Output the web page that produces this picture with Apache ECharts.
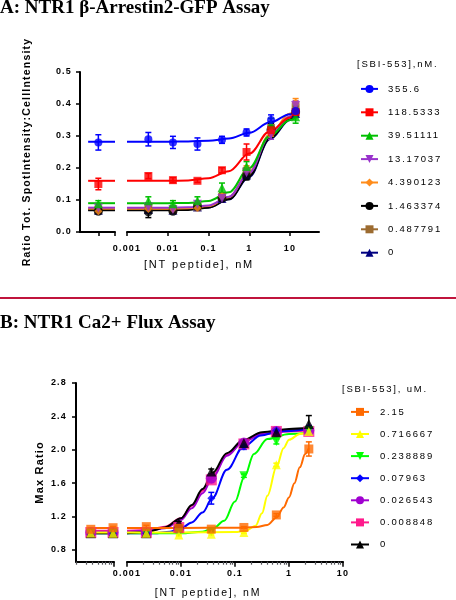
<!DOCTYPE html>
<html><head><meta charset="utf-8">
<script src="https://cdn.jsdelivr.net/npm/echarts@6/dist/echarts.min.js"></script>
<style>html,body{margin:0;padding:0;background:#fff}#c{width:456px;height:600px}</style>
</head><body><div id="c"></div>
<script>
// ---------- Panel A: NTR1 beta-Arrestin2-GFP ----------
const sbiA = ['355.6','118.5333','39.51111','13.17037','4.390123','1.463374','0.487791','0'];
const ntA = [0.00334, 0.0134, 0.0535, 0.214, 0.856, 3.42, 13.7];   // nM NT peptide
const ctrlA = [0.0002];                                              // control (no NT) position
// means: control, then ntA doses
const A355 = [0.280, 0.290, 0.280, 0.275, 0.288, 0.311, 0.350, 0.378];
const A118 = [0.150, 0.175, 0.162, 0.160, 0.193, 0.250, 0.318, 0.375];
const A39  = [0.088, 0.098, 0.088, 0.098, 0.138, 0.205, 0.335, 0.360];
const A13  = [0.075, 0.078, 0.070, 0.087, 0.105, 0.185, 0.305, 0.395];
const A4   = [0.065, 0.072, 0.072, 0.075, 0.112, 0.195, 0.315, 0.405];
const A1   = [0.065, 0.063, 0.065, 0.080, 0.105, 0.175, 0.320, 0.375];
const A05  = [0.070, 0.075, 0.070, 0.080, 0.110, 0.190, 0.325, 0.390];
const A0   = [0.068, 0.070, 0.068, 0.078, 0.105, 0.178, 0.330, 0.370];
const A355e = [0.024, 0.021, 0.019, 0.019, 0.011, 0.011, 0.016, 0.015];
const A118e = [0.018, 0.008, 0.008, 0.005, 0.008, 0.025, 0.015, 0.010];
const A39e  = [0.010, 0.012, 0.010, 0.012, 0.015, 0.015, 0.020, 0.020];
const A13e  = [0.010, 0.012, 0.008, 0.010, 0.012, 0.015, 0.015, 0.015];
const A4e   = [0.008, 0.008, 0.008, 0.008, 0.010, 0.012, 0.015, 0.012];
const A1e   = [0.006, 0.018, 0.006, 0.008, 0.008, 0.012, 0.020, 0.012];
const A05e  = [0.008, 0.010, 0.008, 0.008, 0.010, 0.012, 0.015, 0.012];
const A0e   = [0.006, 0.008, 0.006, 0.008, 0.008, 0.012, 0.015, 0.012];
// fitted curves, x = log10(nM)
const fitXA = [-3.95, -3.29, -3, -2.5, -2, -1.5, -1, -0.5, 0, 0.5, 1, 1.14];
const fA355 = [0.282,0.282,0.282,0.282,0.282,0.283,0.285,0.292,0.310,0.342,0.368,0.373];
const fA118 = [0.160,0.160,0.160,0.160,0.160,0.161,0.168,0.190,0.245,0.315,0.358,0.365];
const fA39  = [0.090,0.090,0.090,0.090,0.090,0.091,0.097,0.124,0.200,0.300,0.350,0.357];
const fA13  = [0.076,0.076,0.076,0.076,0.076,0.077,0.083,0.110,0.185,0.300,0.362,0.370];
const fA4   = [0.073,0.073,0.073,0.073,0.073,0.074,0.081,0.109,0.188,0.305,0.370,0.378];
const fA1   = [0.068,0.068,0.068,0.068,0.068,0.069,0.076,0.102,0.175,0.292,0.352,0.360];
const fA05  = [0.071,0.071,0.071,0.071,0.071,0.072,0.079,0.106,0.182,0.300,0.360,0.368];
const fA0   = [0.070,0.070,0.070,0.070,0.070,0.071,0.077,0.102,0.172,0.290,0.350,0.358];
const yTicksA = [0, 0.1, 0.2, 0.3, 0.4, 0.5];

// ---------- Panel B: NTR1 Ca2+ flux ----------
const sbiB = ['2.15','0.716667','0.238889','0.07963','0.026543','0.008848','0'];
const ntB = [0.00228, 0.0091, 0.0364, 0.146, 0.583, 2.33];
const ctrlB = [0.000037, 0.000096];
const B215  = [1.048, 1.067, 1.080, 1.060, 1.050, 1.070, 1.220, 2.010];
const B072  = [1.005, 1.000, 1.000, 0.980, 0.990, 1.010, 1.820, 2.220];
const B024  = [1.000, 1.000, 1.000, 1.010, 1.020, 1.690, 2.100, 2.230];
const B008  = [1.000, 1.000, 1.000, 1.040, 1.420, 2.040, 2.230, 2.270];
const B0027 = [1.010, 1.010, 1.010, 1.060, 1.660, 2.080, 2.220, 2.230];
const B0009 = [1.010, 1.010, 1.010, 1.070, 1.640, 2.070, 2.220, 2.220];
const B0    = [1.000, 1.000, 1.000, 1.120, 1.740, 2.080, 2.210, 2.310];
const B215e  = [0.015, 0.015, 0.015, 0.010, 0.010, 0.010, 0.015, 0.085];
const B072e  = [0.010, 0.010, 0.010, 0.010, 0.010, 0.010, 0.020, 0.030];
const B024e  = [0.010, 0.010, 0.010, 0.010, 0.010, 0.020, 0.030, 0.020];
const B008e  = [0.010, 0.010, 0.010, 0.020, 0.070, 0.035, 0.020, 0.020];
const B0027e = [0.010, 0.010, 0.010, 0.010, 0.030, 0.020, 0.020, 0.020];
const B0009e = [0.010, 0.010, 0.010, 0.010, 0.030, 0.020, 0.020, 0.020];
const B0e    = [0.010, 0.010, 0.010, 0.020, 0.030, 0.020, 0.020, 0.100];
const fB215  = [[-4.48,1.065],[-4.0,1.065],[-3,1.065],[-2,1.065],[-1,1.066],[-0.6,1.075],[-0.4,1.1],[-0.229,1.19],[-0.1,1.31],[0,1.43],[0.1,1.6],[0.2,1.79],[0.3,1.95],[0.367,2.02]];
const fB072  = [[-4.48,1.01],[-4.0,1.01],[-3,1.01],[-2,1.01],[-1,1.015],[-0.8,1.03],[-0.62,1.09],[-0.5,1.24],[-0.4,1.45],[-0.229,1.8],[-0.1,2.02],[0,2.12],[0.2,2.19],[0.367,2.21]];
const fB024  = [[-4.48,1.0],[-4.0,1.0],[-3,1.0],[-2,1.0],[-1.6,1.02],[-1.4,1.06],[-1.2,1.15],[-1.0,1.38],[-0.824,1.68],[-0.65,1.95],[-0.4,2.13],[0,2.19],[0.367,2.2]];
const fB008  = [[-4.48,1.0],[-4.0,1.0],[-3,1.0],[-2.5,1.0],[-2.2,1.02],[-2.0,1.06],[-1.8,1.13],[-1.6,1.25],[-1.42,1.42],[-1.15,1.76],[-0.84,2.04],[-0.52,2.17],[-0.2,2.22],[0.367,2.25]];
const fB0027 = [[-4.48,1.02],[-4.0,1.02],[-3,1.02],[-2.6,1.03],[-2.3,1.06],[-2.0,1.16],[-1.8,1.3],[-1.6,1.48],[-1.42,1.66],[-1.15,1.93],[-0.84,2.1],[-0.5,2.19],[0,2.23],[0.367,2.24]];
const fB0009 = [[-4.48,1.03],[-4.0,1.03],[-3,1.03],[-2.6,1.04],[-2.3,1.08],[-2.0,1.18],[-1.8,1.33],[-1.6,1.51],[-1.42,1.68],[-1.15,1.94],[-0.84,2.1],[-0.5,2.19],[0,2.22],[0.367,2.23]];
const fB0    = [[-4.48,1.0],[-4.0,1.0],[-3,1.0],[-2.6,1.02],[-2.3,1.07],[-2.0,1.18],[-1.8,1.34],[-1.6,1.53],[-1.42,1.72],[-1.15,1.96],[-0.84,2.12],[-0.5,2.21],[0,2.25],[0.367,2.26]];
const yTicksB = [0.8, 1.2, 1.6, 2.0, 2.4, 2.8];
const xTickLabels = ['0.001', '0.01', '0.1', '1', '10'];
const xTickLogs = [-3, -2, -1, 0, 1];

// ---------- text spacing (the source figure is stretched horizontally) ----------
(function(){
  var P = window.CanvasRenderingContext2D && CanvasRenderingContext2D.prototype;
  if (!P || !('letterSpacing' in P)) return;
  function sp(ctx){
    var f = ctx.font || '', s = '0px';
    if (/sans/i.test(f)) s = /bold|[6-9]00/.test(f) ? '1.2px' : '1.8px';
    if (ctx.letterSpacing !== s) ctx.letterSpacing = s;
  }
  ['fillText','strokeText','measureText'].forEach(function(m){
    var o = P[m];
    P[m] = function(){ sp(this); return o.apply(this, arguments); };
  });
})();

const SANS = '"Liberation Sans", Arial, sans-serif';
const SERIF = '"Liberation Serif", "Times New Roman", serif';

const meanA = [A355, A118, A39, A13, A4, A1, A05, A0];
const errA = [A355e, A118e, A39e, A13e, A4e, A1e, A05e, A0e];
const fitA = [fA355, fA118, fA39, fA13, fA4, fA1, fA05, fA0].map(f => fitXA.map((x, k) => [x, f[k]]));
const styleA = [
  {color:'#0000ff', symbol:'circle', size:8},
  {color:'#ff0000', symbol:'rect', size:8},
  {color:'#00c000', symbol:'triangle', size:9},
  {color:'#9933cc', symbol:'triangle', size:9, rot:180},
  {color:'#ff8c1a', symbol:'diamond', size:8},
  {color:'#000000', symbol:'circle', size:9},
  {color:'#9c6b30', symbol:'rect', size:8},
  {color:'#000080', symbol:'triangle', size:9}
];
const meanB = [B215, B072, B024, B008, B0027, B0009, B0];
const errB = [B215e, B072e, B024e, B008e, B0027e, B0009e, B0e];
const fitB = [fB215, fB072, fB024, fB008, fB0027, fB0009, fB0];
const styleB = [
  {color:'#ff6a00', symbol:'rect', size:9},
  {color:'#ffff00', symbol:'triangle', size:9},
  {color:'#00ff00', symbol:'triangle', size:9, rot:180},
  {color:'#0000ff', symbol:'diamond', size:8},
  {color:'#a000d0', symbol:'circle', size:11},
  {color:'#ff1a8c', symbol:'rect', size:11},
  {color:'#000000', symbol:'triangle', size:10}
];

function errSeries(ax, color, pts) {
  return {
    type:'custom', xAxisIndex: ax[0], yAxisIndex: ax[1], data: pts, z: 3, silent: true,
    encode: {x: 0, y: 1},
    renderItem: function (params, api) {
      const x = api.value(0), y = api.value(1), e = api.value(2);
      const c = api.coord([x, y]), t = api.coord([x, y + e]), b = api.coord([x, y - e]);
      const st = {stroke: color, lineWidth: 1.5};
      return {type:'group', children:[
        {type:'line', shape:{x1:c[0], y1:t[1], x2:c[0], y2:b[1]}, style: st},
        {type:'line', shape:{x1:c[0]-3, y1:t[1], x2:c[0]+3, y2:t[1]}, style: st},
        {type:'line', shape:{x1:c[0]-3, y1:b[1], x2:c[0]+3, y2:b[1]}, style: st}
      ]};
    }
  };
}

const fitsS = [], errsS = [], ptsS = [];
function build(prefix, labels, ctrl, nt, means, errs, fits, styles, order, axL, axR, split) {
  const nC = ctrl.length;
  order.forEach(function (i) {
    const st = styles[i], name = prefix + labels[i];
    const common = {name: name, symbol: st.symbol, symbolRotate: st.rot || 0, symbolSize: st.size,
                    itemStyle: {color: st.color}, silent: true};
    const fl = fits[i].filter(p => p[0] < split), fr = fits[i].filter(p => p[0] >= split);
    fitsS.push(Object.assign({type:'line', xAxisIndex: axL[0], yAxisIndex: axL[1], data: fl,
      showSymbol:false, lineStyle:{color: st.color, width: 2}, z: 2}, common));
    fitsS.push(Object.assign({type:'line', xAxisIndex: axR[0], yAxisIndex: axR[1], data: fr,
      showSymbol:false, smooth: 0.35, smoothMonotone: 'x', lineStyle:{color: st.color, width: 2}, z: 2}, common));
    const pl = ctrl.map((d, k) => [Math.log10(d), means[i][k], errs[i][k]]);
    const pr = nt.map((d, k) => [Math.log10(d), means[i][k + nC], errs[i][k + nC]]);
    errsS.push(errSeries(axL, st.color, pl), errSeries(axR, st.color, pr));
    ptsS.push(Object.assign({type:'scatter', xAxisIndex: axL[0], yAxisIndex: axL[1], data: pl.map(p => [p[0], p[1]]), z: 4}, common));
    ptsS.push(Object.assign({type:'scatter', xAxisIndex: axR[0], yAxisIndex: axR[1], data: pr.map(p => [p[0], p[1]]), z: 4}, common));
  });
}
build('A|', sbiA, ctrlA, ntA, meanA, errA, fitA, styleA, [7,6,5,4,3,2,1,0], [0,0], [1,1], -3.1);
build('B|', sbiB, ctrlB, ntB, meanB, errB, fitB, styleB, [5,4,3,2,6,1,0], [2,2], [4,3], -3.5);

const minorR = [], minorL = [];
for (let d = -3; d <= 0; d++) for (let k = 2; k <= 9; k++) minorR.push(d + Math.log10(k));
for (let k = 2; k <= 9; k++) minorL.push(-5 + Math.log10(k));

const axLine = {show: true, onZero: false, lineStyle: {color: '#000', width: 2}};
const tickLbl = {fontFamily: SANS, fontSize: 9, fontWeight: 'bold', color: '#000'};
const fmtX = v => xTickLabels[xTickLogs.indexOf(Math.round(v))];

const option = {
  animation: false,
  backgroundColor: '#fff',
  title: [
    {text: 'A: NTR1 β-Arrestin2-GFP Assay', left: 0, top: -1, padding: 0,
     textStyle: {fontFamily: SERIF, fontSize: 19, fontWeight: 'bold', color: '#000'}},
    {text: 'B: NTR1 Ca2+ Flux Assay', left: 0, top: 314, padding: 0,
     textStyle: {fontFamily: SERIF, fontSize: 19, fontWeight: 'bold', color: '#000'}},
    {text: '[SBI-553],nM.', left: 357, top: 58, padding: 0,
     textStyle: {fontFamily: SANS, fontSize: 9.5, fontWeight: 'normal', color: '#000'}},
    {text: '[SBI-553], uM.', left: 342, top: 383, padding: 0,
     textStyle: {fontFamily: SANS, fontSize: 9.5, fontWeight: 'normal', color: '#000'}}
  ],
  legend: [
    {orient: 'vertical', left: 355, top: 78, itemWidth: 17, itemHeight: 10, itemGap: 11.6, selectedMode: false,
     data: sbiA.map(s => 'A|' + s), formatter: n => n.split('|')[1],
     textStyle: {fontFamily: SANS, fontSize: 9.5, color: '#000', padding: [0, 0, 0, 5]}},
    {orient: 'vertical', left: 345, top: 401, itemWidth: 18, itemHeight: 10, itemGap: 10.3, selectedMode: false,
     data: sbiB.map(s => 'B|' + s), formatter: n => n.split('|')[1],
     textStyle: {fontFamily: SANS, fontSize: 9.5, color: '#000', padding: [0, 0, 0, 6]}}
  ],
  grid: [
    {left: 80, top: 72, width: 35, height: 160, outerBoundsMode: 'none'},
    {left: 127, top: 72, width: 192, height: 160, outerBoundsMode: 'none'},
    {left: 76, top: 383, width: 38, height: 178.7, outerBoundsMode: 'none'},
    {left: 127, top: 383, width: 216, height: 178.7, outerBoundsMode: 'none'}
  ],
  xAxis: [
    {type: 'value', gridIndex: 0, position: 'bottom', min: -4.15, max: -3.29, splitLine: {show: false},
     axisLine: axLine, axisTick: {length: 4, lineStyle: {width: 1.5}, customValues: [Math.log10(ctrlA[0]), -3.29]},
     axisLabel: {show: false}},
    {type: 'value', gridIndex: 1, position: 'bottom', min: -3, max: 1.71, splitLine: {show: false},
     axisLine: axLine, axisTick: {length: 4, lineStyle: {width: 1.5}, customValues: xTickLogs},
     axisLabel: Object.assign({margin: 11, customValues: xTickLogs, formatter: fmtX}, tickLbl)},
    {type: 'value', gridIndex: 2, position: 'bottom', min: -4.707, max: -4, splitLine: {show: false},
     axisLine: axLine, axisTick: {length: 5, lineStyle: {width: 1.5}, customValues: [-4]}, axisLabel: {show: false}},
    {type: 'value', gridIndex: 2, position: 'bottom', min: -4.707, max: -4, splitLine: {show: false},
     axisLine: {show: false}, axisTick: {length: 3, lineStyle: {width: 1.2}, customValues: minorL.filter(v => v >= -4.707)}, axisLabel: {show: false}},
    {type: 'value', gridIndex: 3, position: 'bottom', min: -3, max: 1, splitLine: {show: false},
     axisLine: axLine, axisTick: {length: 5, lineStyle: {width: 1.5}, customValues: xTickLogs},
     axisLabel: Object.assign({margin: 7, customValues: xTickLogs, formatter: fmtX}, tickLbl)},
    {type: 'value', gridIndex: 3, position: 'bottom', min: -3, max: 1, splitLine: {show: false},
     axisLine: {show: false}, axisTick: {length: 3, lineStyle: {width: 1.2}, customValues: minorR}, axisLabel: {show: false}}
  ],
  yAxis: [
    {type: 'value', gridIndex: 0, min: 0, max: 0.5, interval: 0.1, splitLine: {show: false},
     axisLine: axLine, axisTick: {length: 4, lineStyle: {width: 1.5}},
     axisLabel: Object.assign({margin: 8, formatter: v => v.toFixed(1)}, tickLbl),
     name: 'Ratio Tot. SpotIntensity:CellIntensity', nameLocation: 'middle', nameRotate: 90, nameGap: 47,
     nameTextStyle: {fontFamily: SANS, fontSize: 10.5, fontWeight: 'bold', color: '#000'}},
    {type: 'value', gridIndex: 1, min: 0, max: 0.5, show: false},
    {type: 'value', gridIndex: 2, min: 0.66, max: 2.8, splitLine: {show: false},
     axisLine: axLine, axisTick: {length: 4, lineStyle: {width: 1.5}, customValues: yTicksB},
     axisLabel: Object.assign({margin: 9, customValues: yTicksB, formatter: v => v.toFixed(1)}, tickLbl),
     name: 'Max Ratio', nameLocation: 'middle', nameRotate: 90, nameGap: 30,
     nameTextStyle: {fontFamily: SANS, fontSize: 11, fontWeight: 'bold', color: '#000'}},
    {type: 'value', gridIndex: 3, min: 0.66, max: 2.8, show: false}
  ],
  graphic: [
    {type: 'line', silent: true, shape: {x1: 0, y1: 298, x2: 456, y2: 298}, style: {stroke: '#c0143c', lineWidth: 2}},
    {type: 'text', silent: true, x: 199, y: 265,
     style: {text: '[NT peptide], nM', fontFamily: SANS, fontSize: 11, fill: '#000', align: 'center', verticalAlign: 'middle'}},
    {type: 'text', silent: true, x: 208, y: 593,
     style: {text: '[NT peptide], nM', fontFamily: SANS, fontSize: 10.5, fill: '#000', align: 'center', verticalAlign: 'middle'}}
  ],
  series: fitsS.concat(errsS, ptsS)
};

const chart = echarts.init(document.getElementById('c'), null, {renderer: 'canvas'});
chart.setOption(option);
</script>
</body></html>
